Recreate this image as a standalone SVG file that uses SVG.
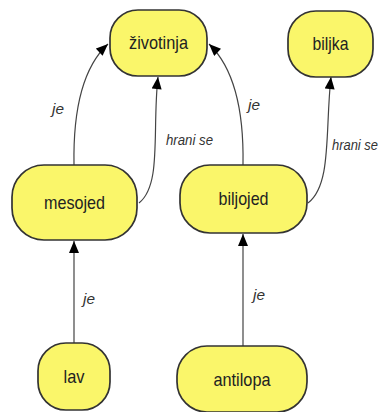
<svg xmlns="http://www.w3.org/2000/svg" width="385" height="412" viewBox="0 0 385 412">
<style>
.node rect{fill:#faf66a;stroke:#333;stroke-width:1.7}
.node text{font-family:"Liberation Sans",Arial,sans-serif;font-size:19px;fill:#222;text-anchor:middle}
.edge{fill:none;stroke:#444;stroke-width:1.2}
.lbl{font-family:"Liberation Sans",Arial,sans-serif;font-size:15px;font-style:italic;fill:#333}
</style>
<defs>
<marker id="arr" viewBox="0 0 12 10" refX="12" refY="5" markerWidth="13" markerHeight="10" markerUnits="userSpaceOnUse" orient="auto">
<path d="M0,0 L12,5 L0,10 Z" fill="#000"/>
</marker>
</defs>
<rect width="385" height="412" fill="#fff"/>
<g id="connectors">
<path class="edge" d="M74,165 C73,110 82,68 108,44" marker-end="url(#arr)"/>
<path class="edge" d="M139,203 C162,185 152,130 158,77" marker-end="url(#arr)"/>
<path class="edge" d="M243,165 C244,110 234,68 209,44" marker-end="url(#arr)"/>
<path class="edge" d="M308,203 C332,185 325,130 331,77" marker-end="url(#arr)"/>
<path class="edge" d="M74,343 L74,241" marker-end="url(#arr)"/>
<path class="edge" d="M243,346 L243,234" marker-end="url(#arr)"/>
<text class="lbl" x="52" y="114" textLength="12" lengthAdjust="spacingAndGlyphs">je</text>
<text class="lbl" x="166" y="145" textLength="47" lengthAdjust="spacingAndGlyphs">hrani se</text>
<text class="lbl" x="248" y="110" textLength="12" lengthAdjust="spacingAndGlyphs">je</text>
<text class="lbl" x="332" y="150" textLength="46" lengthAdjust="spacingAndGlyphs">hrani se</text>
<text class="lbl" x="83" y="304" textLength="12" lengthAdjust="spacingAndGlyphs">je</text>
<text class="lbl" x="253" y="300" textLength="12" lengthAdjust="spacingAndGlyphs">je</text>
</g>
<g id="zivotinja" class="node"><rect x="110" y="10" width="97" height="66" rx="28"/><text x="158.5" y="49" textLength="59" lengthAdjust="spacingAndGlyphs">životinja</text></g>
<g id="biljka" class="node"><rect x="288" y="11" width="85" height="66" rx="28"/><text x="330.5" y="50" textLength="36" lengthAdjust="spacingAndGlyphs">biljka</text></g>
<g id="mesojed" class="node"><rect x="12" y="165" width="125" height="75" rx="32"/><text x="74.5" y="209" textLength="61" lengthAdjust="spacingAndGlyphs">mesojed</text></g>
<g id="biljojed" class="node"><rect x="180" y="165" width="127" height="68" rx="30"/><text x="243.5" y="205" textLength="50" lengthAdjust="spacingAndGlyphs">biljojed</text></g>
<g id="lav" class="node"><rect x="38" y="343" width="72" height="67" rx="28"/><text x="74" y="383" textLength="21" lengthAdjust="spacingAndGlyphs">lav</text></g>
<g id="antilopa" class="node"><rect x="177" y="346" width="130" height="66" rx="30"/><text x="242" y="386" textLength="57" lengthAdjust="spacingAndGlyphs">antilopa</text></g>
</svg>
